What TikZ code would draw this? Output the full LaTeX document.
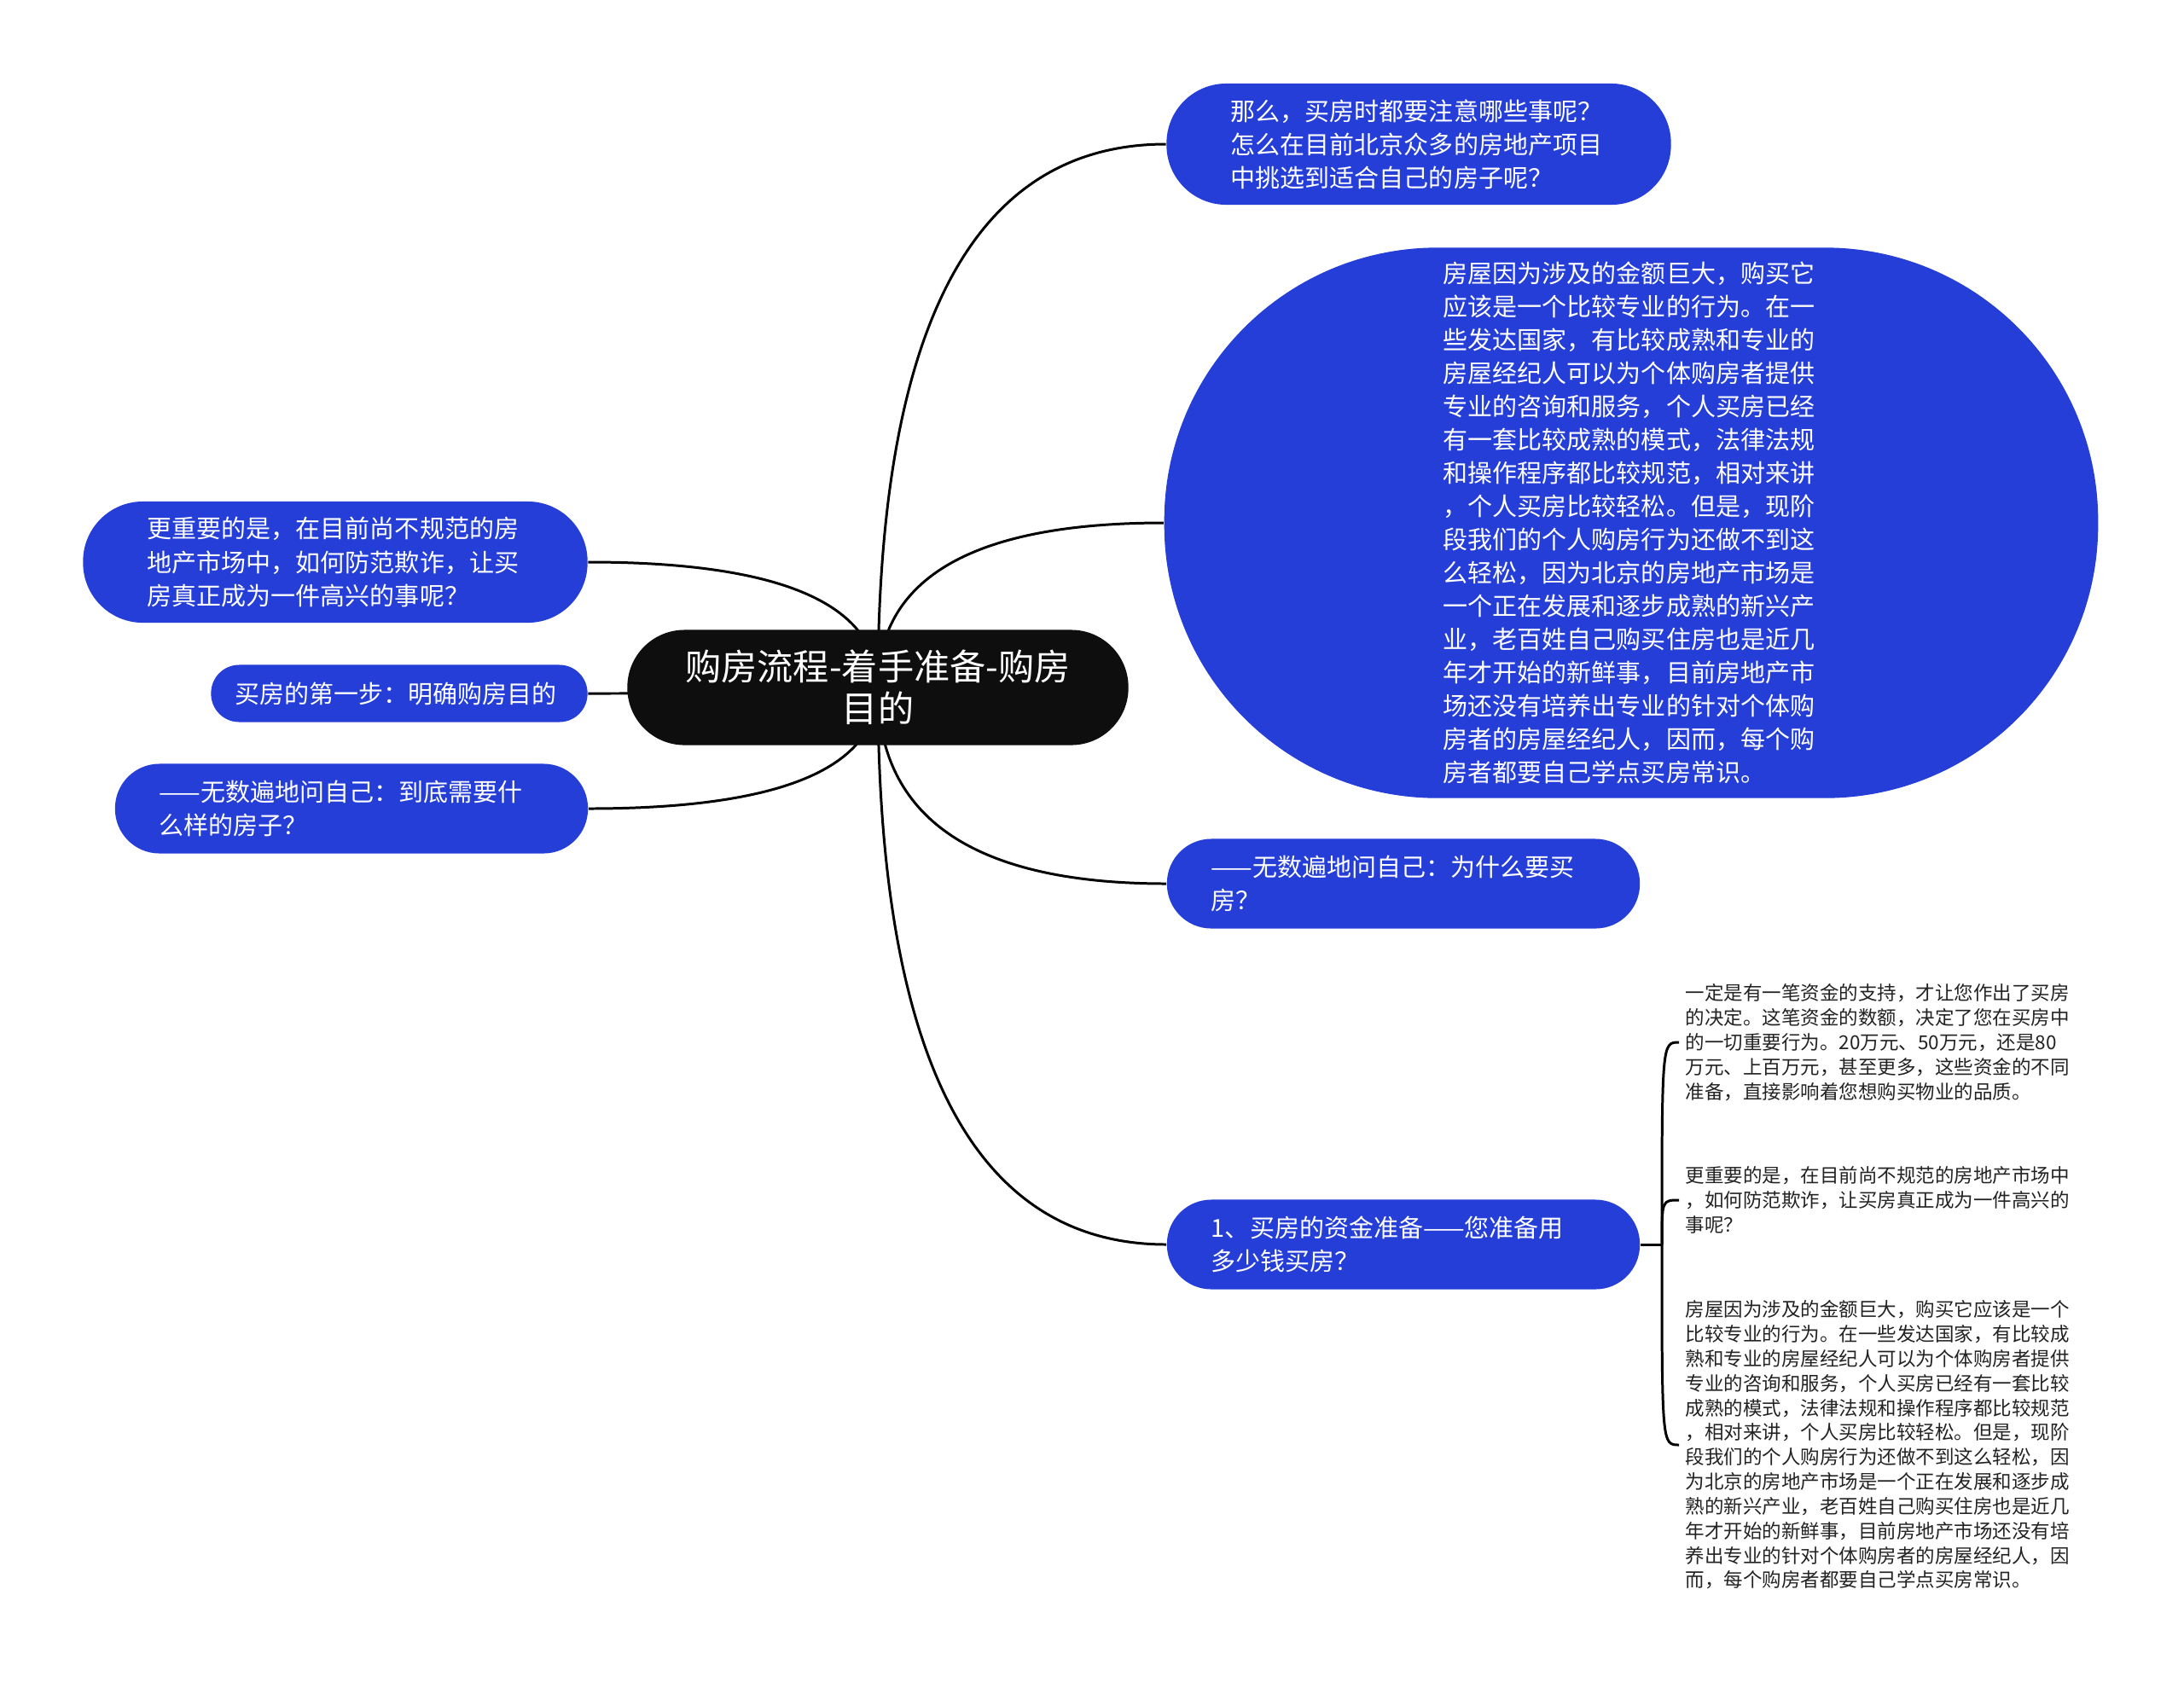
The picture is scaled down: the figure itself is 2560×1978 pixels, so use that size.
\documentclass[tikz,border=0pt]{standalone}
\usepackage{fontspec}
\setmainfont{Noto Sans CJK SC}
\usetikzlibrary{calc, backgrounds}
\definecolor{mapblue}{RGB}{36, 62, 215}
\definecolor{mapblack}{RGB}{14, 14, 14}
\definecolor{leafgray}{RGB}{34, 34, 34}
\tikzset{
  root/.style={rectangle, rounded corners=0.67cm, fill=mapblack, text=white,
               minimum width=5.87cm, minimum height=1.35cm, text width=4.6cm,
               align=center, inner sep=0pt, font=\fontsize{12pt}{14pt}\selectfont},
  topic/.style={rectangle, rounded corners=#1, fill=mapblue, text=white,
                align=left, inner sep=0pt, font=\fontsize{8.25pt}{11.1pt}\selectfont},
  topic/.default=0.52cm,
  leaf/.style={anchor=west, text=leafgray, text width=4.6cm, align=left,
               inner xsep=0.07cm, inner ysep=0pt, font=\fontsize{6.4pt}{8.2pt}\selectfont},
  link/.style={draw=black, line width=0.85pt},
  branch/.style={to path={.. controls ($(\tikztostart)!2/3!(\tikztostart|-\tikztotarget)$)
                 and ($(\tikztotarget)!2/3!(\tikztostart|-\tikztotarget)$) .. (\tikztotarget)}},
}
\begin{document}
\begin{tikzpicture}[x=0.01cm, y=-0.01cm]
  \useasboundingbox (0,0) rectangle (2560,1978);

  % central topic
  \node[root] (main) at (1029,806) {购房流程-着手准备-购房\\目的};

  % right side
  \node[topic=0.7cm, minimum width=5.91cm, minimum height=1.42cm, text width=4.4cm]
       (q1) at (1663,169)
       {那么，买房时都要注意哪些事呢？\\怎么在目前北京众多的房地产项目\\中挑选到适合自己的房子呢？};
  \node[topic=3.2cm, minimum width=10.94cm, minimum height=6.45cm, text width=4.4cm]
       (q2) at (1912,613)
       {房屋因为涉及的金额巨大，购买它\\应该是一个比较专业的行为。在一\\些发达国家，有比较成熟和专业的\\房屋经纪人可以为个体购房者提供\\专业的咨询和服务，个人买房已经\\有一套比较成熟的模式，法律法规\\和操作程序都比较规范，相对来讲\\，个人买房比较轻松。但是，现阶\\段我们的个人购房行为还做不到这\\么轻松，因为北京的房地产市场是\\一个正在发展和逐步成熟的新兴产\\业，老百姓自己购买住房也是近几\\年才开始的新鲜事，目前房地产市\\场还没有培养出专业的针对个体购\\房者的房屋经纪人，因而，每个购\\房者都要自己学点买房常识。};
  \node[topic, minimum width=5.54cm, minimum height=1.05cm, text width=4.5cm]
       (q6) at (1645,1036) {——无数遍地问自己：为什么要买\\房？};
  \node[topic, minimum width=5.54cm, minimum height=1.05cm, text width=4.5cm]
       (q7) at (1645,1459) {1、买房的资金准备——您准备用\\多少钱买房？};

  % left side
  \node[topic=0.7cm, minimum width=5.91cm, minimum height=1.42cm, text width=4.4cm]
       (q3) at (393,659)
       {更重要的是，在目前尚不规范的房\\地产市场中，如何防范欺诈，让买\\房真正成为一件高兴的事呢？};
  \node[topic=0.33cm, minimum width=4.41cm, minimum height=0.67cm, text width=3.85cm]
       (q4) at (468,813) {买房的第一步：明确购房目的};
  \node[topic, minimum width=5.54cm, minimum height=1.05cm, text width=4.5cm]
       (q5) at (412,948) {——无数遍地问自己：到底需要什\\么样的房子？};

  % details of q7
  \coordinate (hub) at (1948,1459);
  \node[leaf] (la) at (1968,1222)
       {一定是有一笔资金的支持，才让您作出了买房\\的决定。这笔资金的数额，决定了您在买房中\\的一切重要行为。20万元、50万元，还是80\\万元、上百万元，甚至更多，这些资金的不同\\准备，直接影响着您想购买物业的品质。};
  \node[leaf] (lb) at (1968,1407)
       {更重要的是，在目前尚不规范的房地产市场中\\，如何防范欺诈，让买房真正成为一件高兴的\\事呢？};
  \node[leaf] (lc) at (1968,1694)
       {房屋因为涉及的金额巨大，购买它应该是一个\\比较专业的行为。在一些发达国家，有比较成\\熟和专业的房屋经纪人可以为个体购房者提供\\专业的咨询和服务，个人买房已经有一套比较\\成熟的模式，法律法规和操作程序都比较规范\\，相对来讲，个人买房比较轻松。但是，现阶\\段我们的个人购房行为还做不到这么轻松，因\\为北京的房地产市场是一个正在发展和逐步成\\熟的新兴产业，老百姓自己购买住房也是近几\\年才开始的新鲜事，目前房地产市场还没有培\\养出专业的针对个体购房者的房屋经纪人，因\\而，每个购房者都要自己学点买房常识。};

  % connectors
  \begin{scope}[on background layer]
    \foreach \t in {q1,q2,q6,q7}
      \draw[link] (main.center) to[branch] (\t.west);
    \foreach \t in {q3,q4,q5}
      \draw[link] (main.center) to[branch] (\t.east);
    \draw[link] (q7.east) -- (hub);
    \foreach \l in {la,lb,lc}
      \draw[link] (hub) .. controls (hub|-\l.west) .. (\l.west);
  \end{scope}
\end{tikzpicture}
\end{document}
